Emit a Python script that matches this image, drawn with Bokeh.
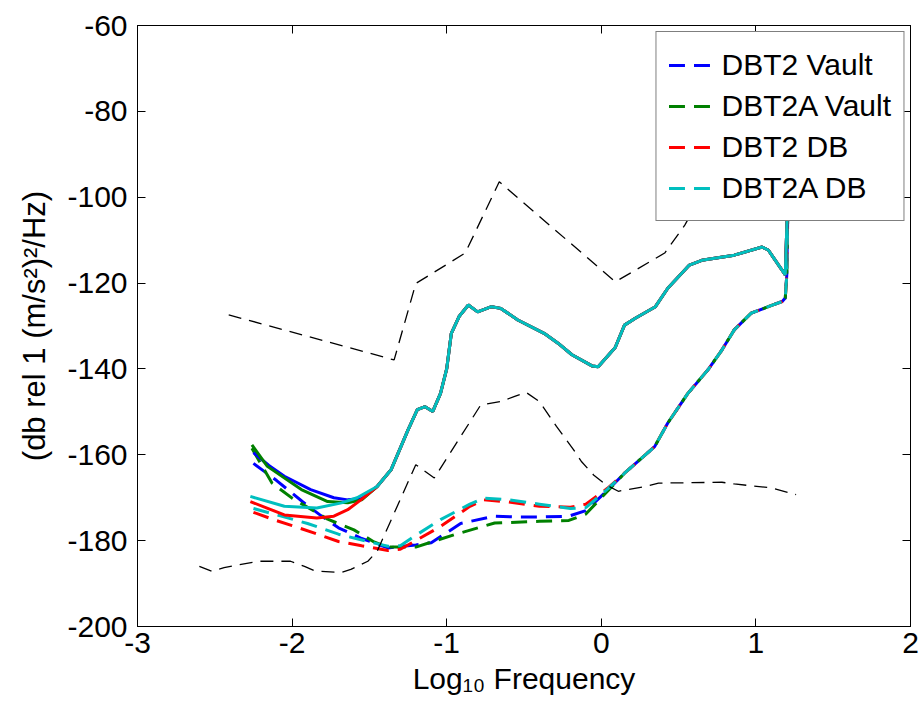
from bokeh.plotting import figure
from bokeh.models import LinearAxis, FixedTicker, Legend, LegendItem
from bokeh.embed import file_html
from bokeh.resources import INLINE

FONT = "Liberation Sans"

# ---------------- data ----------------
x_ticks = [-3, -2, -1, 0, 1, 2]
y_ticks = [-200, -180, -160, -140, -120, -100, -80, -60]

# upper black dashed reference model
nhnm_x = [-2.41, -1.34, -1.20, -0.88, -0.66, 0.09, 0.22, 0.41, 0.54, 0.75]
nhnm_y = [-127.4, -137.9, -120.1, -113.0, -96.4, -119.7, -117.0, -113.0, -106.5, -93.0]

# lower black dashed reference model
nlnm_x = [-2.60, -2.52, -2.44, -2.22, -2.01, -1.92, -1.85, -1.68, -1.62, -1.51, -1.45,
          -1.20, -1.08, -0.78, -0.65, -0.56, -0.485, -0.40, -0.29, -0.18, -0.13, -0.05,
          0.03, 0.11, 0.17, 0.28, 0.37, 0.78, 0.86, 1.10, 1.26]
nlnm_y = [-186.0, -187.1, -186.3, -184.8, -184.8, -186.0, -187.1, -187.4, -186.7, -184.8, -182.5,
          -162.3, -165.4, -148.4, -147.6, -146.4, -145.5, -147.6, -153.4, -158.8, -161.5, -164.7,
          -167.0, -168.5, -168.1, -167.4, -166.6, -166.4, -166.8, -167.7, -169.3]

# solid curves: individual starts, then a common upper tail
blue_solid_x = [-2.25, -2.15, -2.05, -1.88, -1.73, -1.64, -1.55]
blue_solid_y = [-159.5, -162.5, -165.0, -168.1, -170.0, -170.5, -170.2]
green_solid_x = [-2.26, -2.16, -1.94, -1.77, -1.64, -1.55]
green_solid_y = [-157.7, -162.7, -168.1, -170.9, -171.2, -170.5]
red_solid_x = [-2.27, -2.05, -1.84, -1.73, -1.64, -1.555]
red_solid_y = [-170.9, -174.0, -174.7, -174.3, -172.8, -170.5]
cyan_solid_x = [-2.27, -2.05, -1.84, -1.68, -1.58]
cyan_solid_y = [-169.7, -172.0, -172.4, -171.2, -170.0]

upper_tail_x = [-1.45, -1.36, -1.25, -1.19, -1.14, -1.09, -1.04, -1.00, -0.97, -0.92, -0.86,
                -0.80, -0.71, -0.65, -0.54, -0.37, -0.28, -0.19, -0.06, -0.02, 0.09, 0.15,
                0.22, 0.35, 0.43, 0.57, 0.65, 0.86, 1.04, 1.08, 1.19, 1.20, 1.21]
upper_tail_y = [-167.4, -163.5, -154.2, -149.5, -148.8, -149.9, -145.7, -140.0, -131.7, -127.8, -125.1,
                -126.7, -125.5, -125.9, -128.6, -131.7, -134.0, -136.7, -139.3, -139.5, -135.0, -129.8,
                -128.2, -125.5, -121.2, -115.8, -114.7, -113.5, -111.6, -112.3, -118.1, -106.9, -95.0]

# dashed curves: individual parts, then a common lower tail
blue_dash_x = [-2.25, -2.10, -1.93, -1.82, -1.70, -1.55, -1.38, -1.20, -1.10, -0.91, -0.69,
               -0.55, -0.40, -0.21, -0.10, 0.04]
blue_dash_y = [-162.0, -166.0, -171.0, -174.0, -177.0, -179.5, -181.7, -181.0, -180.5, -176.0, -174.3,
               -174.5, -174.5, -174.3, -173.0, -168.3]
green_dash_x = [-2.26, -2.13, -2.00, -1.77, -1.60, -1.47, -1.38, -1.20, -0.95, -0.69, -0.40,
                -0.21, -0.10, 0.04]
green_dash_y = [-158.5, -166.6, -170.1, -175.0, -177.5, -180.3, -181.5, -181.5, -178.6, -175.9, -175.5,
                -175.3, -173.8, -168.5]
red_dash_x = [-2.25, -2.12, -2.00, -1.85, -1.70, -1.55, -1.38, -1.30, -1.21, -1.04, -0.85,
              -0.76, -0.60, -0.40, -0.20, -0.10, 0.04]
red_dash_y = [-173.4, -175.1, -176.5, -178.3, -180.2, -181.2, -182.3, -182.0, -180.2, -176.7, -172.0,
              -170.5, -171.0, -172.0, -172.2, -171.5, -167.8]
cyan_dash_x = [-2.25, -2.10, -1.90, -1.70, -1.50, -1.38, -1.30, -1.21, -1.04, -0.85, -0.76,
               -0.60, -0.40, -0.20, -0.10, 0.04]
cyan_dash_y = [-172.5, -174.0, -176.0, -178.5, -180.3, -181.3, -181.2, -179.0, -175.1, -171.5, -170.1,
               -170.5, -171.5, -172.5, -172.3, -168.0]

lower_tail_x = [0.15, 0.345, 0.43, 0.56, 0.69, 0.78, 0.86, 0.97, 1.08, 1.17, 1.19, 1.20, 1.21]
lower_tail_y = [-164.3, -158.1, -152.6, -145.7, -140.2, -135.6, -130.9, -127.0, -125.5, -124.3,
                -123.5, -118.0, -95.0]

series = [
    ("DBT2 Vault", "#0000FF", blue_dash_x, blue_dash_y, blue_solid_x, blue_solid_y),
    ("DBT2A Vault", "#008000", green_dash_x, green_dash_y, green_solid_x, green_solid_y),
    ("DBT2 DB", "#FF0000", red_dash_x, red_dash_y, red_solid_x, red_solid_y),
    ("DBT2A DB", "#00BFBF", cyan_dash_x, cyan_dash_y, cyan_solid_x, cyan_solid_y),
]

# ---------------- figure ----------------
p = figure(width=921, height=717, x_range=(-3, 2), y_range=(-200, -60),
           output_backend="svg", toolbar_location=None,
           min_border_left=137, min_border_right=11, min_border_top=25, min_border_bottom=91)
p.background_fill_color = "white"
p.border_fill_color = "white"
p.outline_line_color = "black"
p.outline_line_width = 1
p.xgrid.visible = False
p.ygrid.visible = False

for ax in p.xaxis:
    ax.ticker = FixedTicker(ticks=x_ticks)
    ax.major_label_overrides = {t: str(t) for t in x_ticks}
for ax in p.yaxis:
    ax.ticker = FixedTicker(ticks=y_ticks)
    ax.major_label_overrides = {t: str(t) for t in y_ticks}

for ax in list(p.xaxis) + list(p.yaxis):
    ax.major_tick_in = 8
    ax.major_tick_out = 0
    ax.minor_tick_line_color = None
    ax.axis_line_color = "black"
    ax.major_tick_line_color = "black"
    ax.major_label_text_font = FONT
    ax.major_label_text_font_size = "30px"
    ax.major_label_text_color = "black"
    ax.axis_label_text_font = FONT
    ax.axis_label_text_font_size = "30px"
    ax.axis_label_text_font_style = "normal"
    ax.axis_label_text_color = "black"

p.xaxis.major_label_standoff = 6
p.yaxis.major_label_standoff = 10
p.yaxis.axis_label = "(db rel 1 (m/s\u00b2)\u00b2/Hz)"
p.yaxis.axis_label_text_font_size = "31px"
p.yaxis.axis_label_standoff = 12
p.xaxis.axis_label = "Log\u2081\u2080 Frequency"
p.xaxis.axis_label_standoff = 6

top_ax = LinearAxis(ticker=FixedTicker(ticks=x_ticks), major_tick_in=8, major_tick_out=0,
                    major_label_overrides={t: "" for t in x_ticks}, major_label_standoff=0,
                    axis_line_color="black", minor_tick_line_color=None)
right_ax = LinearAxis(ticker=FixedTicker(ticks=y_ticks), major_tick_in=8, major_tick_out=0,
                      major_label_overrides={t: "" for t in y_ticks}, major_label_standoff=0,
                      axis_line_color="black", minor_tick_line_color=None)
p.add_layout(top_ax, "above")
p.add_layout(right_ax, "right")

# ---------------- lines ----------------
dash_renderers = []
for name, col, dx, dy, sx, sy in series:
    r = p.line(dx + lower_tail_x, dy + lower_tail_y, line_color=col, line_width=3,
               line_dash="16 9")
    dash_renderers.append((name, r))

for name, col, dx, dy, sx, sy in series:
    p.line(sx + upper_tail_x, sy + upper_tail_y, line_color=col, line_width=3)

p.line(nhnm_x, nhnm_y, line_color="black", line_width=1.3, line_dash="13 8")
p.line(nlnm_x, nlnm_y, line_color="black", line_width=1.3, line_dash="13 8")

legend = Legend(items=[LegendItem(label=n, renderers=[r]) for n, r in dash_renderers],
                location="top_right")
legend.margin = 6
legend.padding = 12
legend.spacing = 0
legend.label_height = 41
legend.glyph_height = 20
legend.glyph_width = 44
legend.label_standoff = 9
legend.label_text_font = FONT
legend.label_text_font_size = "30px"
legend.label_text_color = "black"
legend.border_line_color = "black"
legend.border_line_width = 1
legend.background_fill_color = "white"
legend.background_fill_alpha = 1.0
p.add_layout(legend)

open("out.html", "w").write(file_html(p, INLINE))
